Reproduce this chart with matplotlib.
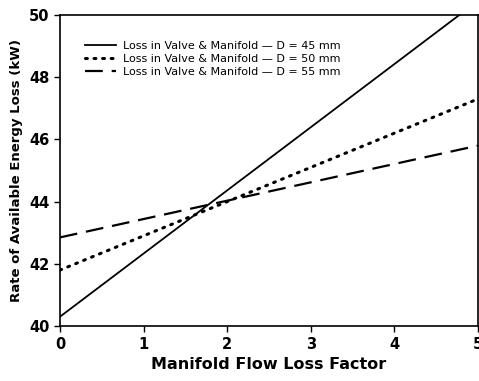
import matplotlib
matplotlib.use('Agg')
import matplotlib.pyplot as plt
import numpy as np

# Manifold flow loss factor (end points of each straight line)
loss_factor = [0, 5]

# Rate of available energy loss (kW) for each manifold diameter
loss_d45 = [40.3, 50.45]
loss_d50 = [41.8, 47.3]
loss_d55 = [42.85, 45.8]

labels = [
    'Loss in Valve & Manifold \u2014 D = 45 mm',
    'Loss in Valve & Manifold \u2014 D = 50 mm',
    'Loss in Valve & Manifold \u2014 D = 55 mm',
]

fig = plt.figure(figsize=(4.79, 3.81), dpi=100)
ax = fig.add_axes([0.125, 0.144, 0.873, 0.817])

ax.plot(loss_factor, loss_d45, color='black', linewidth=1.3, linestyle='-', label=labels[0])
ax.plot(loss_factor, loss_d50, color='black', linewidth=2.2, linestyle=(0, (0.6, 2.2)),
        dash_capstyle='round', label=labels[1])
ax.plot(loss_factor, loss_d55, color='black', linewidth=1.6, linestyle=(0, (8, 4)), label=labels[2])

ax.set_xlim(0, 5)
ax.set_ylim(40, 50)
ax.set_xticks([0, 1, 2, 3, 4, 5])
ax.set_yticks([40, 42, 44, 46, 48, 50])
ax.tick_params(direction='out', length=4, width=1, labelsize=10.5)
for lbl in ax.get_xticklabels() + ax.get_yticklabels():
    lbl.set_fontweight('bold')
for sp in ax.spines.values():
    sp.set_linewidth(1.2)

ax.set_xlabel('Manifold Flow Loss Factor', fontsize=11.5, fontweight='bold')
ax.set_ylabel('Rate of Available Energy Loss (kW)', fontsize=9.5, fontweight='bold')

ax.legend(loc='upper left', bbox_to_anchor=(0.05, 0.93), frameon=False, fontsize=8,
          handlelength=2.8, handletextpad=0.6, labelspacing=0.25, borderaxespad=0)

fig.savefig('out.png', dpi=100)
